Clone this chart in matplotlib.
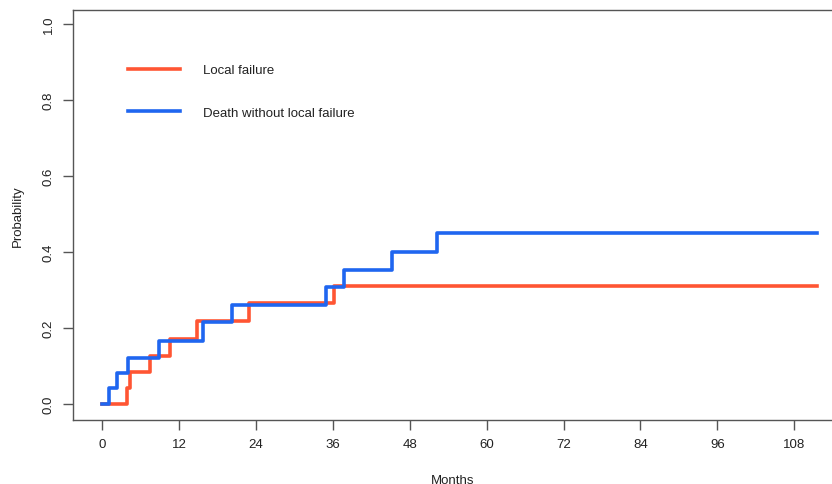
import matplotlib
matplotlib.use("Agg")
import matplotlib.pyplot as plt

plt.rcParams['font.family'] = ['Liberation Sans', 'DejaVu Sans']

# Cumulative incidence step curves (months, probability)
local_t = [0, 3.8, 4.3, 7.4, 10.5, 14.7, 22.9, 36.1, 111.5]
local_p = [0, 0.042, 0.084, 0.126, 0.170, 0.218, 0.265, 0.312, 0.312]

death_t = [0, 1.1, 2.2, 4.0, 8.8, 15.7, 20.2, 34.9, 37.7, 45.2, 52.2, 111.5]
death_p = [0, 0.042, 0.081, 0.121, 0.165, 0.215, 0.260, 0.307, 0.354, 0.400, 0.449, 0.449]

x_ticks = list(range(0, 109, 12))
y_ticks = [0.0, 0.2, 0.4, 0.6, 0.8, 1.0]
y_labels = ["0.0", "0.2", "0.4", "0.6", "0.8", "1.0"]

red = "#FF5533"
blue = "#1F66F0"
axis_col = "#555555"

fig = plt.figure(figsize=(8.32, 4.85), dpi=100)
ax = fig.add_axes([0.0877, 0.132, 0.9123, 0.845])

ax.plot(local_t, local_p, drawstyle="steps-post", color=red, lw=2.6,
        label="Local failure")
ax.plot(death_t, death_p, drawstyle="steps-post", color=blue, lw=2.6,
        label="Death without local failure")

ax.set_xlim(-4.6, 113.9)
ax.set_ylim(-0.042, 1.037)
ax.set_xticks(x_ticks)
ax.set_yticks(y_ticks)
ax.set_yticklabels(y_labels, rotation=90, va="center")

for s in ["left", "bottom", "top"]:
    ax.spines[s].set_color(axis_col)
    ax.spines[s].set_linewidth(1.0)
ax.spines["right"].set_visible(False)

ax.tick_params(axis="both", colors=axis_col, labelcolor="#222222",
               length=7, width=1.0, labelsize=9.5, pad=6)

ax.set_xlabel("Months", fontsize=9.5, color="#222222", labelpad=17)
ax.set_ylabel("Probability", fontsize=9.5, color="#222222", labelpad=14)

leg = ax.legend(loc="upper left", bbox_to_anchor=(0.057, 0.897), frameon=False,
                fontsize=9.5, handlelength=3.9, handletextpad=1.8,
                labelspacing=2.3)
for t in leg.get_texts():
    t.set_color("#222222")

fig.savefig("out.png", dpi=100)
